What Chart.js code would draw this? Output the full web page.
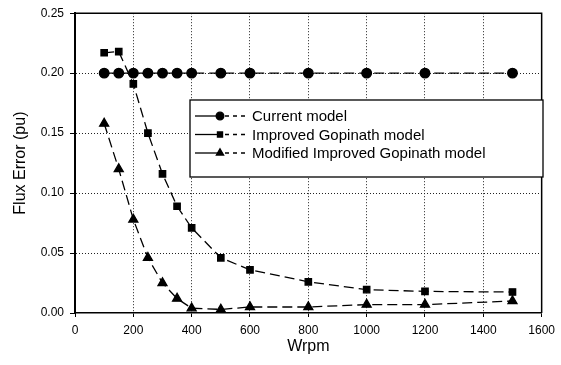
<!DOCTYPE html>
<html>
<head>
<meta charset="utf-8">
<script src="https://cdn.jsdelivr.net/npm/chart.js@4/dist/chart.umd.min.js"></script>
<style>
  html, body { margin: 0; padding: 0; background: #fff; }
  #wrap { width: 561px; height: 365px; }
</style>
</head>
<body>
<div id="wrap"><canvas id="grafico"></canvas></div>
<script>
// dados
const wrpm = [100, 150, 200, 250, 300, 350, 400, 500, 600, 800, 1000, 1200, 1500];
const currentModel = [0.200, 0.200, 0.200, 0.200, 0.200, 0.200, 0.200, 0.200, 0.200, 0.200, 0.200, 0.200, 0.200];
const improvedGopinath = [0.217, 0.218, 0.191, 0.150, 0.116, 0.089, 0.071, 0.046, 0.036, 0.026, 0.0195, 0.018, 0.0175];
const modifiedGopinath = [0.158, 0.120, 0.078, 0.046, 0.025, 0.012, 0.004, 0.003, 0.005, 0.005, 0.007, 0.007, 0.010];
const seriesNames = ["Current model", "Improved Gopinath model", "Modified Improved Gopinath model"];
const markers = ["circle", "rect", "triangle"];
const markerSizes = [4.8, 4.5, 5.2];
const xTicks = [0, 200, 400, 600, 800, 1000, 1200, 1400, 1600];
const yTicks = [0, 0.05, 0.10, 0.15, 0.20, 0.25];

const fonte = "Liberation Sans, Arial, Helvetica, sans-serif";

function pontos(ys) {
    return wrpm.map((x, i) => ({ x: x, y: ys[i] }));
}

const valores = [currentModel, improvedGopinath, modifiedGopinath];
const datasets = valores.map((ys, i) => ({
    label: seriesNames[i],
    data: pontos(ys),
    borderColor: "#000",
    backgroundColor: "#000",
    borderWidth: 1.3,
    borderDash: [10, 5],
    pointStyle: markers[i],
    pointRadius: markerSizes[i],
    pointBackgroundColor: "#000",
    pointBorderColor: "#000",
    tension: 0,
}));

// moldura solida em cima e a direita
const moldura = {
    id: "moldura",
    beforeDatasetsDraw(chart) {
        const a = chart.chartArea;
        const ctx = chart.ctx;
        ctx.save();
        ctx.setLineDash([]);
        ctx.strokeStyle = "#000";
        ctx.lineWidth = 1.5;
        ctx.beginPath();
        ctx.moveTo(a.left, a.top);
        ctx.lineTo(a.right, a.top);
        ctx.lineTo(a.right, a.bottom);
        ctx.stroke();
        ctx.restore();
    }
};

// legenda desenhada dentro da area do grafico
const legendaInterna = {
    id: "legendaInterna",
    afterDraw(chart) {
        const ctx = chart.ctx;
        ctx.save();
        ctx.setLineDash([]);
        ctx.fillStyle = "#fff";
        ctx.fillRect(190, 100, 353, 77);
        ctx.strokeStyle = "#000";
        ctx.lineWidth = 1.3;
        ctx.strokeRect(190, 100, 353, 77);
        ctx.font = "15px " + fonte;
        ctx.textBaseline = "middle";
        chart.data.datasets.forEach((ds, i) => {
            const y = 116 + i * 18.5;
            ctx.strokeStyle = "#000";
            ctx.lineWidth = 1.3;
            ctx.beginPath();
            ctx.moveTo(195, y);
            ctx.lineTo(220, y);
            ctx.stroke();
            ctx.setLineDash([4, 4]);
            ctx.beginPath();
            ctx.moveTo(225, y);
            ctx.lineTo(247, y);
            ctx.stroke();
            ctx.setLineDash([]);
            ctx.fillStyle = "#000";
            Chart.helpers.drawPoint(ctx, {
                pointStyle: ds.pointStyle,
                radius: ds.pointRadius * 0.8,
                borderWidth: 1,
            }, 220, y);
            ctx.fillText(ds.label, 252, y + 1);
        });
        ctx.restore();
    }
};

let chart = new Chart(document.getElementById("grafico").getContext("2d"), {
    type: "line",
    data: { datasets: datasets },
    options: {
        responsive: true,
        maintainAspectRatio: false,
        animation: false,
        layout: { padding: { top: 13, right: 14, left: 11, bottom: 9 } },
        plugins: {
            legend: { display: false },
            tooltip: { enabled: false },
        },
        scales: {
            x: {
                type: "linear",
                min: 0,
                max: 1600,
                afterBuildTicks: (s) => { s.ticks = xTicks.map(v => ({ value: v })); },
                afterFit: (s) => { s.height = 43; },
                border: { display: true, color: "#000", width: 1.5, dash: [1, 2] },
                grid: {
                    color: (c) => (c.tick && (c.tick.value === 0 || c.tick.value === 1600) ? "rgba(0,0,0,0)" : "#222"),
                    lineWidth: 1,
                    tickColor: "#000",
                    tickLength: 4,
                    tickBorderDash: [],
                },
                ticks: {
                    color: "#000",
                    font: { family: fonte, size: 12 },
                    padding: 6,
                    maxRotation: 0,
                    callback: (v) => String(v),
                },
                title: {
                    display: true,
                    text: "Wrpm",
                    color: "#000",
                    font: { family: fonte, size: 16 },
                    padding: { top: 2, bottom: 0 },
                },
            },
            y: {
                min: 0,
                max: 0.25,
                afterBuildTicks: (s) => { s.ticks = yTicks.map(v => ({ value: v })); },
                afterFit: (s) => { s.width = 64; },
                border: { display: true, color: "#000", width: 2, dash: [1, 2] },
                grid: {
                    color: (c) => (c.tick && (c.tick.value === 0 || c.tick.value === 0.25) ? "rgba(0,0,0,0)" : "#222"),
                    lineWidth: 1,
                    tickColor: "#000",
                    tickLength: 5,
                    tickBorderDash: [],
                },
                ticks: {
                    color: "#000",
                    font: { family: fonte, size: 12 },
                    padding: 6,
                    callback: (v) => Number(v).toFixed(2),
                },
                title: {
                    display: true,
                    text: "Flux Error (pu)",
                    color: "#000",
                    font: { family: fonte, size: 16 },
                    padding: { top: 0, bottom: 8 },
                },
            },
        },
    },
    plugins: [moldura, legendaInterna],
});
</script>
</body>
</html>
